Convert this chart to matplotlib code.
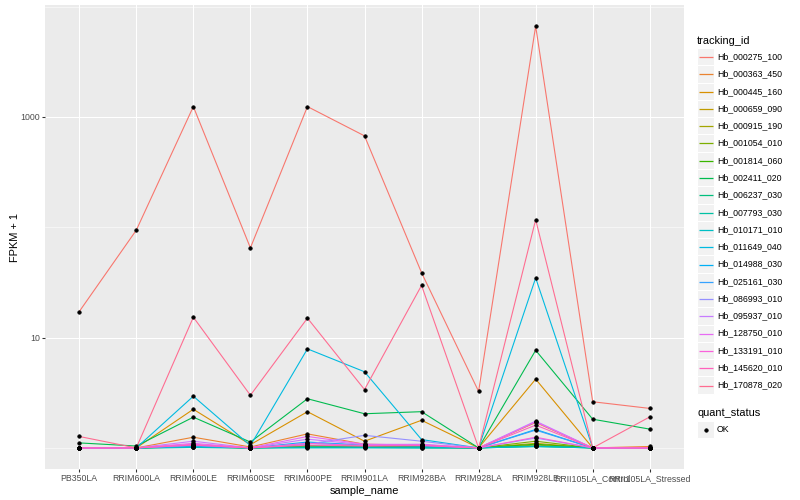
import numpy as np
import matplotlib
matplotlib.use("Agg")
import matplotlib.pyplot as plt
from matplotlib.ticker import FixedLocator, NullFormatter
from matplotlib.patches import Rectangle
from matplotlib.lines import Line2D

plt.rcParams['font.family'] = ['Liberation Sans', 'DejaVu Sans']

# ---------------- data ----------------
samples = ["PB350LA", "RRIM600LA", "RRIM600LE", "RRIM600SE", "RRIM600PE",
           "RRIM901LA", "RRIM928BA", "RRIM928LA", "RRIM928LE",
           "RRII105LA_Control", "RRII105LA_Stressed"]

tracking_ids = ["Hb_000275_100", "Hb_000363_450", "Hb_000445_160", "Hb_000659_090",
                "Hb_000915_190", "Hb_001054_010", "Hb_001814_060", "Hb_002411_020",
                "Hb_006237_030", "Hb_007793_030", "Hb_010171_010", "Hb_011649_040",
                "Hb_014988_030", "Hb_025161_030", "Hb_086993_010", "Hb_095937_010",
                "Hb_128750_010", "Hb_133191_010", "Hb_145620_010", "Hb_170878_020"]

# FPKM + 1 per sample (order as in `samples`)
hb_000275_100 = [17.2, 94, 1240, 65, 1240, 673, 38.7, 3.25, 6650, 2.62, 2.28]
hb_000363_450 = [1.0, 1.0, 1.25, 1.02, 1.34, 1.08, 1.06, 1.0, 1.70, 1.0, 1.03]
hb_000445_160 = [1.0, 1.0, 2.24, 1.07, 2.13, 1.15, 1.78, 1.0, 4.2, 1.0, 1.0]
hb_000659_090 = [1.0, 1.0, 1.03, 1.0, 1.04, 1.03, 1.02, 1.0, 1.10, 1.0, 1.0]
hb_000915_190 = [1.0, 1.0, 1.02, 1.0, 1.02, 1.02, 1.01, 1.0, 1.06, 1.0, 1.0]
hb_001054_010 = [1.0, 1.0, 1.04, 1.0, 1.05, 1.04, 1.03, 1.0, 1.15, 1.0, 1.0]
hb_001814_060 = [1.0, 1.0, 1.03, 1.0, 1.05, 1.03, 1.02, 1.0, 1.08, 1.0, 1.0]
hb_002411_020 = [1.11, 1.04, 1.90, 1.13, 2.79, 2.04, 2.13, 1.0, 7.67, 1.82, 1.48]
hb_006237_030 = [1.0, 1.0, 1.01, 1.0, 1.01, 1.01, 1.0, 1.0, 1.03, 1.0, 1.0]
hb_007793_030 = [1.0, 1.0, 1.02, 1.0, 1.02, 1.02, 1.01, 1.0, 1.04, 1.0, 1.0]
hb_010171_010 = [1.0, 1.0, 1.01, 1.0, 1.0, 1.0, 1.0, 1.0, 1.03, 1.0, 1.0]
hb_011649_040 = [1.0, 1.0, 2.94, 1.05, 7.9, 4.9, 1.19, 1.0, 34.7, 1.0, 1.0]
hb_014988_030 = [1.0, 1.0, 1.05, 1.0, 1.13, 1.06, 1.04, 1.0, 1.47, 1.0, 1.0]
hb_025161_030 = [1.0, 1.0, 1.04, 1.0, 1.10, 1.06, 1.05, 1.0, 1.45, 1.0, 1.0]
hb_086993_010 = [1.0, 1.0, 1.06, 1.0, 1.08, 1.30, 1.15, 1.0, 1.23, 1.0, 1.0]
hb_095937_010 = [1.0, 1.0, 1.15, 1.0, 1.20, 1.07, 1.08, 1.0, 1.75, 1.0, 1.0]
hb_128750_010 = [1.0, 1.0, 1.10, 1.0, 1.27, 1.08, 1.07, 1.0, 1.72, 1.0, 1.0]
hb_133191_010 = [1.0, 1.0, 1.08, 1.0, 1.10, 1.05, 1.06, 1.0, 1.25, 1.0, 1.0]
hb_145620_010 = [1.0, 1.0, 1.06, 1.0, 1.06, 1.04, 1.05, 1.0, 1.61, 1.0, 1.0]
hb_170878_020 = [1.27, 1.0, 15.3, 3.0, 15.0, 3.38, 29.7, 1.0, 117, 1.0, 1.91]

series = [hb_000275_100, hb_000363_450, hb_000445_160, hb_000659_090, hb_000915_190,
          hb_001054_010, hb_001814_060, hb_002411_020, hb_006237_030, hb_007793_030,
          hb_010171_010, hb_011649_040, hb_014988_030, hb_025161_030, hb_086993_010,
          hb_095937_010, hb_128750_010, hb_133191_010, hb_145620_010, hb_170878_020]

y_ticks = [10, 1000]
y_tick_labels = ["10", "1000"]
y_minor = [1, 100, 10000]

status_labels = ["OK"]

# ggplot2 default hue palette for 20 levels
palette = ["#F8766D", "#EA8331", "#D89000", "#C09B00", "#A3A500", "#7CAE00",
           "#39B600", "#00BB4E", "#00BF7D", "#00C1A3", "#00BFC4", "#00BAE0",
           "#00B0F6", "#35A2FF", "#9590FF", "#C77CFF", "#E76BF3", "#FA62DB",
           "#FF62BC", "#FF6C91"]

# ---------------- figure ----------------
W, H = 800, 500
DPI = 100
PX = 72.0 / DPI  # points per pixel

fig = plt.figure(figsize=(W / DPI, H / DPI), dpi=DPI)
fig.patch.set_facecolor("white")

pl, pr, pt, pb = 45, 684, 5, 469
ax = fig.add_axes([pl / W, (H - pb) / H, (pr - pl) / W, (pb - pt) / H])
ax.set_facecolor("#EBEBEB")
for s in ax.spines.values():
    s.set_visible(False)

for vals, col in zip(series, palette):
    ax.plot(samples, vals, color=col, lw=1.1 * PX, zorder=3, solid_capstyle="butt")
for vals in series:
    ax.plot(samples, vals, ls="none", marker="o", ms=3.4 * PX, color="black",
            mec="black", mew=0.6, zorder=4)

ax.set_yscale("log")
allv = np.concatenate([np.asarray(v, float) for v in series])
lo, hi = np.log10(allv.min()), np.log10(allv.max())
pad = 0.05 * (hi - lo)
ax.set_ylim(10 ** (lo - pad), 10 ** (hi + pad))
ax.set_xlim(-0.6, len(samples) - 1 + 0.6)

ax.yaxis.set_major_locator(FixedLocator(y_ticks))
ax.set_yticklabels(y_tick_labels)
ax.yaxis.set_minor_locator(FixedLocator(y_minor))
ax.yaxis.set_minor_formatter(NullFormatter())

ax.grid(True, which="major", color="white", lw=1.07 * PX)
ax.grid(True, which="minor", axis="y", color="white", lw=0.53 * PX)
ax.set_axisbelow(True)

ax.tick_params(axis="both", which="major", length=2.75 * PX, width=1.07 * PX,
               color="#333333", labelcolor="#4D4D4D", labelsize=8.8 * PX,
               pad=2.2 * PX)
ax.tick_params(axis="y", which="minor", length=0)

ax.set_xlabel("sample_name", fontsize=11 * PX, color="black", labelpad=2.75 * PX)
ax.set_ylabel("FPKM + 1", fontsize=11 * PX, color="black", labelpad=0)


# ---------------- legends (drawn in pixel coords) ----------------
def fx(x):
    return x / W


def fy(y):
    return 1 - y / H


lx = 697
key = 17.28
fig.text(fx(lx), fy(40.5), "tracking_id", fontsize=11 * PX, ha="left", va="center")
y0 = 56.7
for i, (tid, col) in enumerate(zip(tracking_ids, palette)):
    cy = y0 + i * key
    fig.add_artist(Rectangle((fx(lx), fy(cy + key / 2)), key / W, key / H,
                             transform=fig.transFigure, facecolor="#F2F2F2",
                             edgecolor="white", lw=1.0 * PX))
    ly = np.floor(cy) + 0.5
    fig.add_artist(Line2D([fx(lx + 1.7), fx(lx + key - 1.7)], [fy(ly), fy(ly)],
                          transform=fig.transFigure, color=col, lw=1.25 * PX,
                          solid_capstyle="butt"))
    fig.text(fx(717), fy(cy), tid, fontsize=8.8 * PX, ha="left", va="center")

fig.text(fx(lx), fy(412.7), "quant_status", fontsize=11 * PX, ha="left", va="center")
cy = 429.5
fig.add_artist(Rectangle((fx(lx), fy(cy + key / 2)), key / W, key / H,
                         transform=fig.transFigure, facecolor="#F2F2F2",
                         edgecolor="white", lw=1.0 * PX))
fig.add_artist(Line2D([fx(lx + key / 2)], [fy(cy)], transform=fig.transFigure,
                      ls="none", marker="o", ms=3.4 * PX, color="black", mew=0.6))
fig.text(fx(717), fy(cy), status_labels[0], fontsize=8.8 * PX, ha="left", va="center")

fig.savefig("out.png", dpi=DPI)
